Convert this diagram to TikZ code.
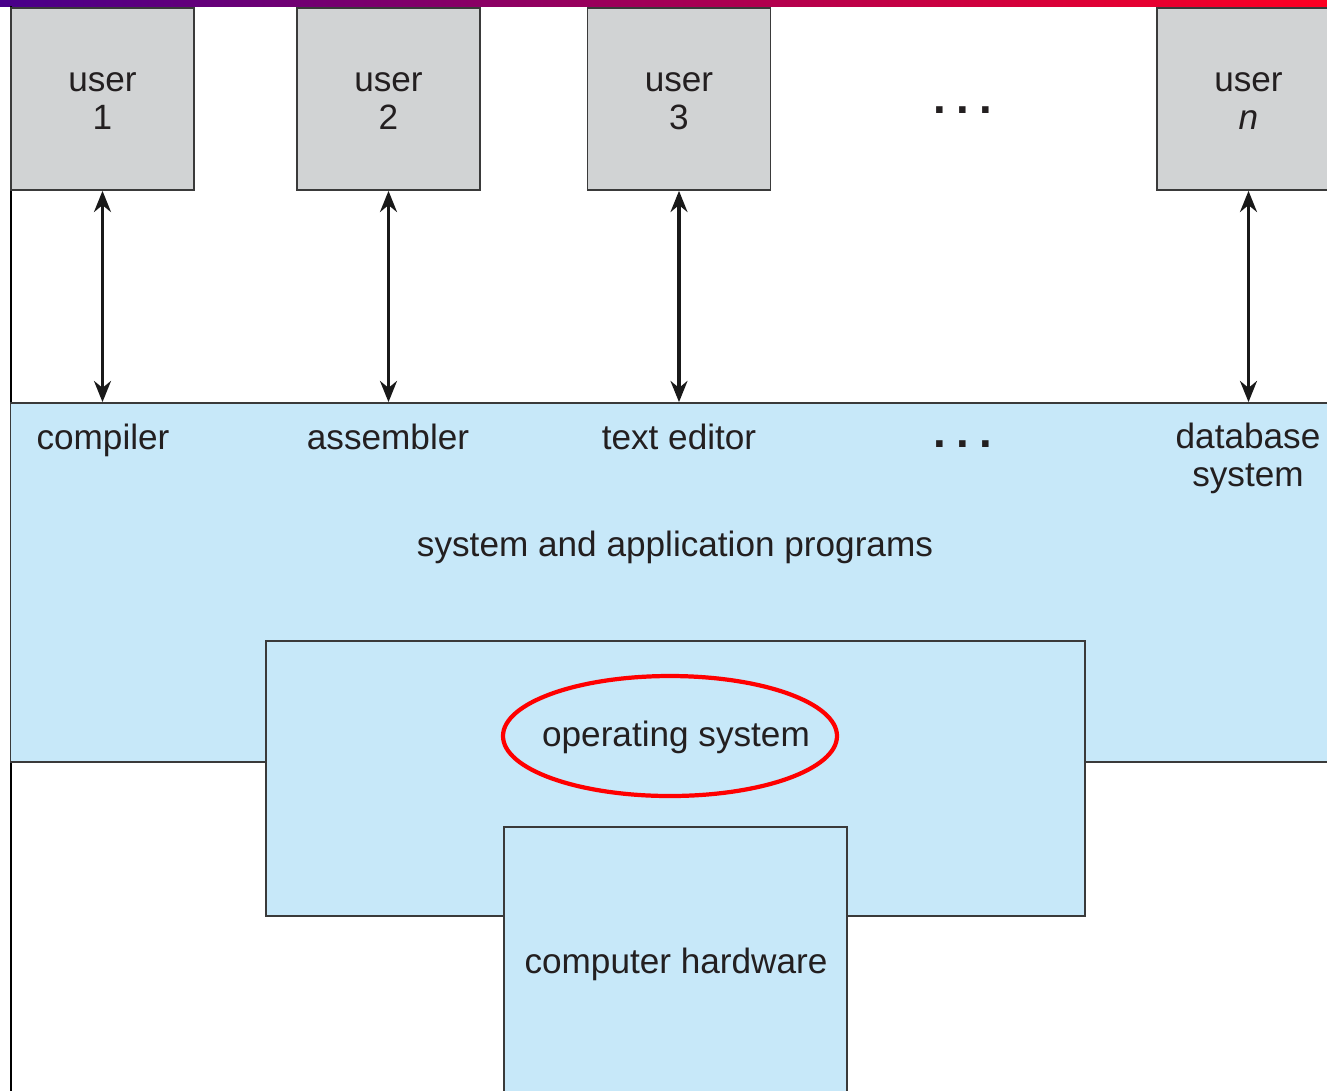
\documentclass[tikz,border=0pt]{standalone}
\usepackage{fontspec}
\setmainfont{Liberation Sans}
\usetikzlibrary{arrows.meta}
\definecolor{ink}{HTML}{231F20}
\definecolor{usergray}{HTML}{D1D3D4}
\definecolor{layerblue}{HTML}{C7E8F9}
\definecolor{edge}{HTML}{3A3A3A}
\definecolor{barpurple}{HTML}{48008A}
\definecolor{barmagenta}{HTML}{98007F}
\definecolor{barred}{HTML}{FF0022}
\tikzset{
  box/.style={draw=edge, line width=0.45pt, inner sep=0pt, anchor=center},
  userbox/.style={box, fill=usergray, minimum width=1.83cm, minimum height=1.82cm},
  layer/.style={box, fill=layerblue},
  lbl/.style={text=ink, font=\fontsize{10}{10.8}\selectfont, inner sep=0pt, align=center},
  oneline/.style={lbl, text height=7.2pt, text depth=2.1pt},
  dots/.style={text=ink, font=\fontsize{13}{14}\bfseries, inner sep=0pt},
  link/.style={draw=black!90, line width=1pt, {Stealth[length=6pt,width=4.8pt]}-{Stealth[length=6pt,width=4.8pt]}},
}
\begin{document}
\begin{tikzpicture}[x=0.01cm, y=-0.01cm]
\clip (0,0) rectangle (1327,1090);
\fill[white] (0,0) rectangle (1327,1090);

% title bar
\shade[left color=barpurple, middle color=barmagenta, right color=barred] (0,0) rectangle (1327,6);

% left rule of the frame
\draw[black, line width=0.6pt] (11,6) -- (11,1100);

% users
\node[userbox] (u1) at (102.5,99) {};
\node[userbox] (u2) at (388.5,99) {};
\node[userbox] (u3) at (679,99) {};
\node[userbox] (un) at (1248.5,99) {};
\node[lbl] (u1t) at (102.5,101) {user\\1};
\node[lbl] (u2t) at (388.5,101) {user\\2};
\node[lbl] (u3t) at (679,101) {user\\3};
\node[lbl] (unt) at (1248.5,101) {user\\\textit{n}};
\node[dots] (udots) at (963,110) {.\hspace{3pt}.\hspace{3pt}.};

% layers
\node[layer, minimum width=13.35cm, minimum height=3.59cm] (apps) at (678.5,582.5) {};
\node[layer, minimum width=8.19cm, minimum height=2.75cm] (os) at (675.5,778.5) {};
\node[layer, minimum width=3.43cm, minimum height=2.85cm] (hw) at (675.5,969.5) {};

% program labels
\node[oneline] (comp) at (103,440.5) {compiler};
\node[oneline] (asm) at (388,440.5) {assembler};
\node[oneline] (ted) at (679,440.5) {text editor};
\node[dots] (pdots) at (963,444.5) {.\hspace{3pt}.\hspace{3pt}.};
\node[lbl] (db) at (1248,458) {database\\system};
\node[oneline] (sap) at (675,548) {system and application programs};

% operating system, ringed
\node[oneline] (osl) at (676,738) {operating system};
\draw[red, line width=1.2pt] (670,736) ellipse [x radius=167, y radius=60];

\node[oneline] (hwl) at (676,965) {computer hardware};

% user <-> program links
\draw[link] (u1.south) -- (u1.south |- apps.north);
\draw[link] (u2.south) -- (u2.south |- apps.north);
\draw[link] (u3.south) -- (u3.south |- apps.north);
\draw[link] (un.south) -- (un.south |- apps.north);
\end{tikzpicture}
\end{document}
